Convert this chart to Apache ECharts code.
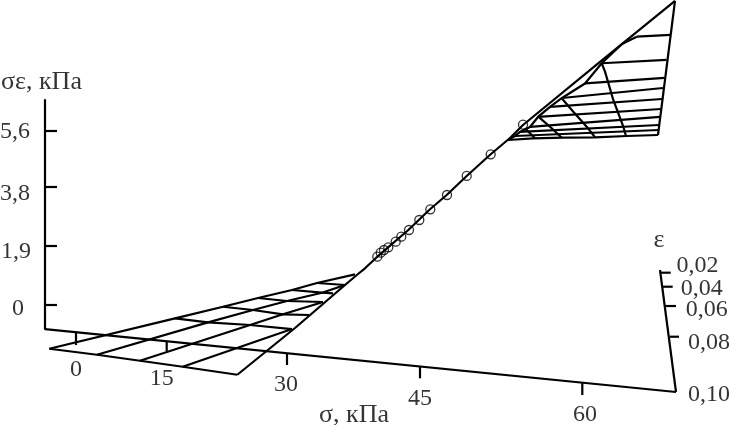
<!DOCTYPE html>
<html>
<head>
<meta charset="utf-8">
<style>
  html, body { margin: 0; background: #fff; }
  #chart { width: 731px; height: 425px; }
</style>
<script src="https://cdn.jsdelivr.net/npm/echarts@6/dist/echarts.min.js"></script>
</head>
<body>
<div id="chart"></div>
<script>
/* The x axis is the horizontal position on the drawn plane, the y axis is σε in kPa */

/* axes of the box */
const sigmaAxis = [[45, -0.773], [676, -2.8]]
const epsAxis = [[660, 1.127], [676, -2.8]]

const sigmaLabels = ['0', '15', '30', '45', '60']
const sigmaTicks = [
  [[76, -0.859], [76, -1.288]],
  [[166.7, -1.159], [166.7, -1.481]],
  [[287, -1.577], [287, -1.931]],
  [[420, -1.986], [420, -2.36]],
  [[582.3, -2.488], [582.3, -2.897]]
]
const sigmaLabelPoints = [[76, -2.07], [161.7, -2.36], [286, -2.553], [420, -3.026], [585, -3.541]]

const epsLabels = ['0,02', '0,04', '0,06', '0,08', '0,10']
const epsTicks = [
  [[660.5, 1.04], [670.7, 1.04]],
  [[662.5, 0.589], [672.7, 0.589]],
  [[665, -0.032], [676, -0.032]],
  [[670, -1.02], [682.3, -1.02]]
]
const epsLabelPoints = [[697.5, 1.265], [701.8, 0.515], [706.7, -0.161], [709, -1.201], [709, -2.897]]

const sigmaEpsTicks = [0, 1.9, 3.8, 5.6]
const sigmaEpsLabels = ['0', '1,9', '3,8', '5,6']
const sigmaEpsLabelPoints = [[18, -0.129], [16, 1.706], [15, 3.573], [15, 5.585]]

/* surface, lower part */
const lowerMesh = [
  [[49.3, -1.407], [97, -1.6], [140, -1.793], [182.7, -1.986], [237.3, -2.244]],
  [[175, -0.428], [208, -0.557], [250, -0.644], [292, -0.773]],
  [[223, -0.055], [253, -0.161], [283, -0.299], [309, -0.322]],
  [[258, 0.225], [287, 0.129], [323, 0.097]],
  [[292, 0.483], [322, 0.396], [333, 0.377]],
  [[317, 0.708], [345, 0.644]],
  [[49.3, -1.407], [175, -0.428], [223, -0.055], [258, 0.225], [292, 0.483], [317, 0.708], [355, 0.988]],
  [[97, -1.6], [208, -0.557], [253, -0.161], [287, 0.129], [322, 0.396], [345, 0.644]],
  [[140, -1.793], [250, -0.644], [283, -0.299], [323, 0.097]],
  [[182.7, -1.986], [292, -0.773]]
]

/* long edge through the points */
const ridge = [
  [237.3, -2.244], [295, -0.74], [345, 0.644], [358, 0.998], [365, 1.181], [377.3, 1.555],
  [408.3, 2.414], [430, 3.081], [446.7, 3.541], [466.7, 4.153], [490.7, 4.851],
  [510, 5.376], [523, 5.794], [600, 7.822], [675, 9.786]
]

/* surface, upper part */
const upperMesh = [
  [[658, 5.472], [675, 9.786]],
  [[636.7, 8.637], [670.7, 8.691]],
  [[601.7, 7.78], [666.5, 7.887]],
  [[585, 7.13], [664.5, 7.307]],
  [[562, 6.663], [663, 6.985]],
  [[550, 6.374], [662, 6.631]],
  [[538, 6.052], [661, 6.309]],
  [[530, 5.73], [660, 6.052]],
  [[520, 5.569], [659, 5.794]],
  [[515, 5.44], [658.5, 5.633]],
  [[508, 5.311], [533, 5.366], [563, 5.385], [595, 5.398], [627, 5.44], [658, 5.472]],
  [[636.7, 8.637], [622, 8.402], [601.7, 7.78], [585, 7.13], [562, 6.663], [550, 6.374], [538, 6.052], [530, 5.73], [520, 5.569], [515, 5.44], [508, 5.311]],
  [[601.7, 7.78], [605, 7.51], [613.3, 6.599], [623.3, 5.739], [626, 5.44]],
  [[561.7, 6.654], [573.3, 6.222], [586.7, 5.739], [595, 5.398]],
  [[538.3, 6.061], [551.7, 5.688], [561.7, 5.385]],
  [[525, 5.688], [531.7, 5.472], [535, 5.366]]
]

/* measured points */
const measured = [
  [377.3, 1.555], [380.7, 1.684], [384, 1.77], [388.3, 1.857], [395.7, 2.038], [401.3, 2.199], [409, 2.414],
  [419.3, 2.736], [430.3, 3.081], [447, 3.541], [466.7, 4.153], [490.7, 4.851], [523, 5.804]
]

const titleLabels = [
  { text: 'σε, кПа', point: [41.5, 7.16] },
  { text: 'σ, кПа', point: [354, -3.541] },
  { text: 'ε', point: [659, 2.092] }
]

const fontFamily = '"Liberation Serif", serif'

const polyline = (points, width = 2.2) => ({
  type: 'line',
  data: points,
  symbol: 'none',
  clip: false,
  silent: true,
  animation: false,
  lineStyle: { color: '#000', width }
})

const textPoints = (points, labels, fontSize = 24) => ({
  type: 'scatter',
  symbolSize: 0,
  clip: false,
  silent: true,
  animation: false,
  data: points,
  label: {
    show: true,
    position: 'inside',
    fontFamily,
    fontSize,
    color: '#000',
    textBorderWidth: 0,
    formatter: p => labels[p.dataIndex]
  }
})

const series = [
  polyline(sigmaAxis),
  polyline(epsAxis),
  ...sigmaTicks.map(t => polyline(t)),
  ...epsTicks.map(t => polyline(t)),
  ...lowerMesh.map(l => polyline(l)),
  ...upperMesh.map(l => polyline(l)),
  polyline(ridge),
  {
    type: 'scatter',
    data: measured,
    symbol: 'circle',
    symbolSize: 9,
    clip: false,
    silent: true,
    animation: false,
    itemStyle: { color: 'transparent', borderColor: '#000', borderWidth: 1.3 }
  },
  textPoints(sigmaLabelPoints, sigmaLabels),
  textPoints(epsLabelPoints, epsLabels),
  textPoints(sigmaEpsLabelPoints, sigmaEpsLabels),
  textPoints(titleLabels.map(t => t.point), titleLabels.map(t => t.text), 26)
]

const myChart = echarts.init(document.getElementById('chart'), null, { renderer: 'canvas' })

myChart.setOption({
  backgroundColor: '#fff',
  animation: false,
  grid: { left: 45, right: 54, top: 100, bottom: 96 },
  xAxis: { type: 'value', min: 45, max: 677, show: false },
  yAxis: {
    type: 'value',
    min: -0.772,
    max: 6.598,
    splitLine: { show: false },
    axisLine: { show: true, lineStyle: { color: '#000', width: 2.2 } },
    axisTick: {
      show: true,
      inside: true,
      length: 12,
      customValues: sigmaEpsTicks,
      lineStyle: { color: '#000', width: 2.2 }
    },
    axisLabel: { show: false }
  },
  series
})
</script>
</body>
</html>
